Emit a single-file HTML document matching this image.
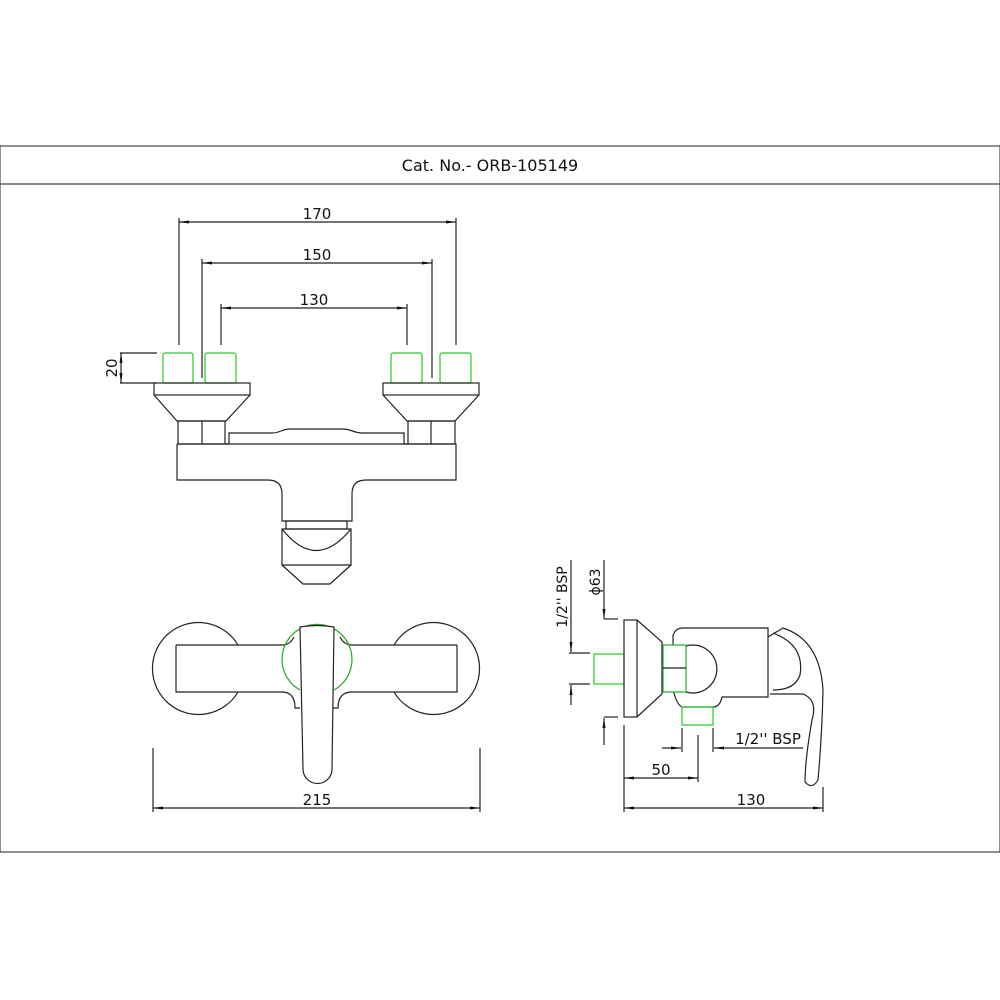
<!DOCTYPE html>
<html><head><meta charset="utf-8"><style>
html,body{margin:0;padding:0;background:#fff;}
svg{display:block;}
text{font-family:"DejaVu Sans","Liberation Sans",sans-serif;fill:#111;}
</style></head><body>
<svg width="1000" height="1000" viewBox="0 0 1000 1000" xmlns="http://www.w3.org/2000/svg">
<defs>
<marker id="a" viewBox="0 0 10 6" refX="10" refY="3" markerWidth="10" markerHeight="6" orient="auto-start-reverse" markerUnits="userSpaceOnUse"><path d="M0,1.5 L10,3 L0,4.5 z" fill="#111"/></marker>
</defs>
<g fill="none" stroke="#222" stroke-width="1.2">
<rect x="0" y="146" width="1000" height="706" stroke="#444"/>
<line x1="0" y1="184" x2="1000" y2="184" stroke="#444"/>

<line x1="179" y1="222" x2="456" y2="222" marker-start="url(#a)" marker-end="url(#a)"/>
<line x1="202" y1="263" x2="432" y2="263" marker-start="url(#a)" marker-end="url(#a)"/>
<line x1="221" y1="308" x2="407" y2="308" marker-start="url(#a)" marker-end="url(#a)"/>
<line x1="179" y1="218" x2="179" y2="345"/>
<line x1="456" y1="218" x2="456" y2="345"/>
<line x1="202" y1="259" x2="202" y2="378"/>
<line x1="432" y1="259" x2="432" y2="378"/>
<line x1="221" y1="304" x2="221" y2="345"/>
<line x1="407" y1="304" x2="407" y2="345"/>
<line x1="120" y1="353" x2="157" y2="353"/>
<line x1="120" y1="383" x2="157" y2="383"/>
<line x1="121" y1="353" x2="121" y2="383" marker-start="url(#a)" marker-end="url(#a)"/>

<rect x="163" y="353" width="30" height="30" rx="2" stroke="#2c2"/>
<rect x="205" y="353" width="31" height="30" rx="2" stroke="#2c2"/>
<rect x="391" y="353" width="31" height="30" rx="2" stroke="#2c2"/>
<rect x="440" y="353" width="31" height="30" rx="2" stroke="#2c2"/>
<rect x="154" y="383" width="96" height="12"/>
<rect x="383" y="383" width="96" height="12"/>
<path d="M154,395 L177,421 L226,421 L250,395"/>
<path d="M383,395 L407,421 L455,421 L479,395"/>
<rect x="178" y="421" width="47" height="23"/>
<line x1="202" y1="421" x2="202" y2="444"/>
<rect x="408" y="421" width="47" height="23"/>
<line x1="431" y1="421" x2="431" y2="444"/>
<path d="M225,444 L229,444 L229,433 L272,433 C280,433 282,429 290,429 L343,429 C351,429 354,433 362,433 L404,433 L404,444 L408,444"/>
<path d="M177,444 L177,480 L268,480 Q282,480 282,494 L282,521 L352,521 L352,494 Q352,480 366,480 L456,480 L456,444 L177,444"/>
<rect x="286" y="521" width="61" height="8"/>
<path d="M282,529 L282,565 L351,565 L351,529 Z"/>
<path d="M282,529 Q316,572 351,529"/>
<path d="M282,565 L303,584 L330,584 L351,565"/>

<!-- front view -->
<path d="M238,645 A46,46 0 1 0 238,692"/>
<path d="M394,645 A46,46 0 1 1 394,692"/>
<path d="M176,645 L282,645 Q290,645 294,637"/>
<path d="M176,645 L176,692 L282,692 Q295,692 295,708 L300,708"/>
<path d="M457,645 L352,645 Q344,645 340,637"/>
<path d="M457,645 L457,692 L352,692 Q338,692 338,708 L333,708"/>
<path d="M300,690 A35,35 0 1 1 334,690" stroke="#2a2"/>
<path d="M300,627 Q317,624 334,627 L332,769 A14.5,14.5 0 0 1 303,769 Z" fill="#fff"/>
<line x1="153" y1="748" x2="153" y2="812"/>
<line x1="480" y1="748" x2="480" y2="812"/>
<line x1="153" y1="808" x2="480" y2="808" marker-start="url(#a)" marker-end="url(#a)"/>

<!-- side view -->
<rect x="594" y="654" width="30" height="30" stroke="#2c2"/>
<rect x="624" y="620" width="13" height="97"/>
<path d="M637,620 L662,642 L662,694 L637,717"/>
<path d="M673,645 L673,636 Q675,628 683,628 L768,628 L768,697 L722,697 Q720,707 713,707 L682,707 Q677,705 673,690"/>
<path d="M686,646 A24,24 0 1 1 686,692"/>
<rect x="663" y="645" width="23" height="47" fill="#fff" stroke="#2a2"/>
<line x1="663" y1="668" x2="686" y2="668"/>
<rect x="682" y="707" width="31" height="18" stroke="#2c2"/>
<path d="M773,633 Q805,645 800,675 Q795,690 773,690"/>
<path d="M768,637 L783,628 Q820,640 823,690 Q822,735 818,780 Q812,790 805,782 Q805,760 812,720 Q818,700 803,694 L770,694"/>
<line x1="604" y1="560" x2="604" y2="619" marker-end="url(#a)"/>
<line x1="604" y1="619" x2="618" y2="619"/>
<line x1="604" y1="717" x2="618" y2="717"/>
<line x1="604" y1="745" x2="604" y2="718" marker-end="url(#a)"/>
<line x1="571" y1="560" x2="571" y2="652" marker-end="url(#a)"/>
<line x1="569" y1="653" x2="590" y2="653"/>
<line x1="569" y1="684" x2="590" y2="684"/>
<line x1="571" y1="705" x2="571" y2="685" marker-end="url(#a)"/>
<line x1="624" y1="725" x2="624" y2="812"/>
<line x1="698" y1="735" x2="698" y2="782"/>
<line x1="624" y1="778" x2="698" y2="778" marker-start="url(#a)" marker-end="url(#a)"/>
<line x1="682" y1="728" x2="682" y2="752"/>
<line x1="713" y1="728" x2="713" y2="752"/>
<line x1="662" y1="748" x2="681" y2="748" marker-end="url(#a)"/>
<line x1="803" y1="748" x2="714" y2="748" marker-end="url(#a)"/>
<line x1="823" y1="787" x2="823" y2="812"/>
<line x1="624" y1="808" x2="823" y2="808" marker-start="url(#a)" marker-end="url(#a)"/>
</g>

<text x="490" y="171" font-size="16" text-anchor="middle">Cat. No.- ORB-105149</text>
<text x="317" y="219" font-size="15" text-anchor="middle">170</text>
<text x="317" y="260" font-size="15" text-anchor="middle">150</text>
<text x="314" y="305" font-size="15" text-anchor="middle">130</text>
<text x="0" y="0" font-size="15" text-anchor="middle" transform="translate(117,368) rotate(-90)">20</text>
<text x="317" y="805" font-size="15" text-anchor="middle">215</text>
<text x="0" y="0" font-size="14" text-anchor="middle" transform="translate(567,597) rotate(-90)">1/2'' BSP</text>
<text x="0" y="0" font-size="14" text-anchor="middle" transform="translate(600,582) rotate(-90)">ϕ63</text>
<text x="661" y="775" font-size="15" text-anchor="middle">50</text>
<text x="768" y="744" font-size="15" text-anchor="middle">1/2'' BSP</text>
<text x="751" y="805" font-size="15" text-anchor="middle">130</text>
</svg>
</body></html>
